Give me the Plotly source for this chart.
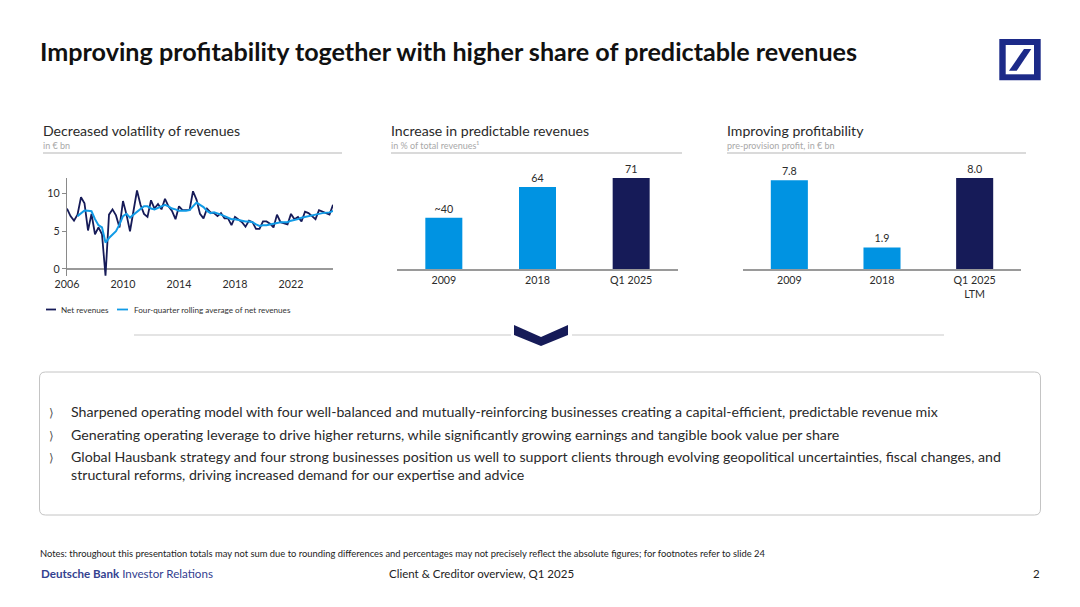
import plotly.graph_objects as go

W, H = 1080, 607
FONT = "Lato"
DARK = "#161b58"
LIGHT = "#0093e2"
INK = "#2b2b2b"

# ---------- data ----------
line_quarters = [2006 + i * 0.25 for i in range(77)]
net_revenues = [8.0, 7.0, 6.4, 7.2,
                9.5, 8.7, 5.1, 7.3,
                4.6, 5.5, 4.6, -0.9,
                7.2, 7.9, 7.1, 5.5,
                9.0, 7.2, 5.0, 7.5,
                10.4, 8.5, 7.3, 6.9,
                9.1, 8.0, 8.6, 7.9,
                9.3, 8.3, 7.7, 6.6,
                8.3, 7.8, 7.8, 7.8,
                10.3, 9.2, 7.3, 6.7,
                8.0, 7.5, 7.4, 7.0,
                7.4, 6.7, 6.7, 5.8,
                6.9, 6.6, 6.2, 5.6,
                6.4, 6.2, 5.3, 5.3,
                6.3, 6.3, 6.0, 5.5,
                7.2, 6.2, 6.1, 5.9,
                7.3, 6.6, 6.9, 6.3,
                7.6, 7.4, 7.0, 6.6,
                7.8, 7.6, 7.5, 7.2,
                8.5]
rolling_avg = [None, None, None, 7.0,
               7.4, 7.75, 7.7, 7.65,
               6.6, 5.8, 5.5, 3.5,
               4.1, 4.6, 5.0, 5.9,
               7.0, 7.3, 6.8, 7.2,
               7.6, 7.9, 8.3, 8.3,
               8.0, 7.9, 8.1, 8.3,
               8.5, 8.3, 8.0, 7.9,
               7.7, 7.7, 7.7, 7.8,
               8.3, 8.8, 8.5, 8.2,
               7.7, 7.4, 7.5, 7.4,
               7.2, 7.0, 6.8, 6.6,
               6.6, 6.5, 6.4, 6.3,
               6.3, 6.2, 5.9, 5.7,
               5.8, 5.8, 5.9, 6.0,
               6.2, 6.2, 6.2, 6.2,
               6.4, 6.5, 6.6, 6.8,
               6.9, 7.0, 7.1, 7.1,
               7.3, 7.4, 7.4, 7.5,
               7.7]
year_ticks = [2006, 2010, 2014, 2018, 2022]

predictable_cats = ["2009", "2018", "Q1 2025"]
predictable_vals = [40, 64, 71]
predictable_text = ["~40", "64", "71"]

profit_cats = ["2009", "2018", "Q1 2025<br>LTM"]
profit_vals = [7.8, 1.9, 8.0]
profit_text = ["7.8", "1.9", "8.0"]

bullets = [
    (411, "Sharpened operating model with four well-balanced and mutually-reinforcing businesses creating a capital-efficient, predictable revenue mix", True),
    (434, "Generating operating leverage to drive higher returns, while significantly growing earnings and tangible book value per share", True),
    (456, "Global Hausbank strategy and four strong businesses position us well to support clients through evolving geopolitical uncertainties, fiscal changes, and", True),
    (474, "structural reforms, driving increased demand for our expertise and advice", False),
]


# ---------- helpers ----------
def px(x):
    return x / W


def py(y):
    return 1 - y / H


def label(x, y, text, size, color=INK, anchor="left", weight=None):
    fig.add_annotation(
        x=px(x), y=py(y), xref="paper", yref="paper", text=text, showarrow=False,
        xanchor=anchor, yanchor="middle", align=anchor, borderpad=0,
        font=dict(size=size, color=color, family=FONT, weight=weight),
    )


def rule(x0, x1, y, color="#b5b5b5", width=1):
    fig.add_shape(type="line", xref="paper", yref="paper", x0=px(x0), x1=px(x1),
                  y0=py(y), y1=py(y), line=dict(color=color, width=width))


def poly(points, fill):
    path = "M" + " L".join(f"{px(a):.5f},{py(b):.5f}" for a, b in points) + " Z"
    fig.add_shape(type="path", xref="paper", yref="paper", path=path,
                  fillcolor=fill, line=dict(width=0))


fig = go.Figure()

# ---------- traces ----------
fig.add_trace(go.Scatter(x=line_quarters, y=net_revenues, mode="lines", name="Net revenues",
                         line=dict(color=DARK, width=1.8), xaxis="x", yaxis="y", cliponaxis=False))
fig.add_trace(go.Scatter(x=line_quarters, y=rolling_avg, mode="lines",
                         name="Four-quarter rolling average of net revenues",
                         line=dict(color="#119be6", width=2), xaxis="x", yaxis="y", connectgaps=False))
fig.add_trace(go.Bar(x=predictable_cats, y=predictable_vals, text=predictable_text,
                     marker=dict(color=[LIGHT, LIGHT, DARK], line=dict(width=0)),
                     textposition="outside", cliponaxis=False, xaxis="x2", yaxis="y2", width=0.395,
                     textfont=dict(size=10.7, color=INK, family=FONT)))
fig.add_trace(go.Bar(x=profit_cats, y=profit_vals, text=profit_text,
                     marker=dict(color=[LIGHT, LIGHT, DARK], line=dict(width=0)),
                     textposition="outside", cliponaxis=False, xaxis="x3", yaxis="y3", width=0.4,
                     textfont=dict(size=10.7, color=INK, family=FONT)))

tick_font = dict(size=10.7, color=INK, family=FONT)
fig.update_layout(
    width=W, height=H, margin=dict(l=0, r=0, t=0, b=0, autoexpand=False),
    paper_bgcolor="white", plot_bgcolor="white", showlegend=False,
    font=dict(family=FONT),
    xaxis=dict(domain=[px(67), px(333)], range=[2006, 2025], tickvals=year_ticks,
               ticktext=[str(v) for v in year_ticks], showgrid=False, zeroline=False,
               showline=False, ticks="", tickfont=tick_font, anchor="y", automargin=False),
    yaxis=dict(domain=[py(276), py(178.4)], range=[-0.93, 12], tickvals=[0, 5, 10], showgrid=False,
               zeroline=True, zerolinecolor="#9a9a9a", zerolinewidth=1.5, showline=True,
               linecolor="#8a8a8a", linewidth=1.2, ticks="outside", ticklen=4, tickcolor="#8a8a8a",
               tickfont=tick_font, anchor="x", automargin=False),
    xaxis2=dict(domain=[px(397), px(678)], type="category", showgrid=False, zeroline=False,
                showline=True, linecolor="#9a9a9a", linewidth=1.5, ticks="", tickfont=tick_font,
                anchor="y2", automargin=False),
    yaxis2=dict(domain=[py(269), py(160)], range=[0, 85], visible=False, anchor="x2", automargin=False),
    xaxis3=dict(domain=[px(743), px(1021)], type="category", showgrid=False, zeroline=False,
                showline=True, linecolor="#9a9a9a", linewidth=1.5, ticks="", tickfont=tick_font,
                anchor="y3", automargin=False),
    yaxis3=dict(domain=[py(269), py(160)], range=[0, 9.58], visible=False, anchor="x3", automargin=False),
)

# ---------- header ----------
label(38.5, 50.5, "Improving profitability together with higher share of predictable revenues",
      25.15, "#111111", weight=700)

LOGO = "#1c2a88"
poly([(999.3, 39), (1040.7, 39), (1040.7, 80.3), (999.3, 80.3)], LOGO)
poly([(1005.7, 45), (1034, 45), (1034, 74.3), (1005.7, 74.3)], "white")
poly([(1009, 70.7), (1016.7, 70.7), (1031.3, 49), (1024, 49)], LOGO)

# ---------- panel headers ----------
for x0, x1, title, sub in [
    (43, 342, "Decreased volatility of revenues", "in € bn"),
    (391, 682, "Increase in predictable revenues", "in % of total revenues¹"),
    (727, 1026, "Improving profitability", "pre-provision profit, in € bn"),
]:
    label(x0 - 1, 131, title, 14.1, "#2a2a2a")
    label(x0 - 1, 145.5, sub, 9, "#a8a8a8")
    rule(x0, x1, 153)

# ---------- manual line legend ----------
rule(46, 56, 309.5, DARK, 1.8)
label(59.5, 309.5, "Net revenues", 8.15, "#333333")
rule(117, 128, 309.5, "#119be6", 1.8)
label(132.5, 309.5, "Four-quarter rolling average of net revenues", 8.15, "#333333")

# ---------- divider ----------
rule(134, 511, 335, "#c9c9c9", 1)
rule(572, 944, 335, "#c9c9c9", 1)
poly([(514, 325), (541, 337), (568, 325), (568, 335), (541, 346), (514, 335)], DARK)

# ---------- text box ----------
x0, x1, y0, y1, r = px(39.5), px(1040.5), py(372), py(515), 6
rx, ry = r / W, r / H
fig.add_shape(type="path", xref="paper", yref="paper",
              path=(f"M{x0 + rx},{y0} L{x1 - rx},{y0} Q{x1},{y0} {x1},{y0 - ry} "
                    f"L{x1},{y1 + ry} Q{x1},{y1} {x1 - rx},{y1} L{x0 + rx},{y1} "
                    f"Q{x0},{y1} {x0},{y1 + ry} L{x0},{y0 - ry} Q{x0},{y0} {x0 + rx},{y0} Z"),
              line=dict(color="#c4c4c4", width=1), fillcolor="rgba(0,0,0,0)")
for y, text, marked in bullets:
    if marked:
        label(48, y + 1, "⟩", 12, "#555555")
    label(69.5, y, text, 14.18, "#2a2a2a")

# ---------- footer ----------
label(39, 553.5, "Notes: throughout this presentation totals may not sum due to rounding differences and percentages may not precisely reflect the absolute figures; for footnotes refer to slide 24",
      9.4, "#222222")
label(39.5, 573.5, "<b>Deutsche Bank</b> Investor Relations", 11.6, "#33418f")
label(481, 573.5, "Client &amp; Creditor overview, Q1 2025", 11.5, "#222222", anchor="center")
label(1041, 573.5, "2", 11.5, "#222222", anchor="right")

fig.write_html("out.html", config={"displayModeBar": False},
               post_script="document.body.style.margin='0';")
